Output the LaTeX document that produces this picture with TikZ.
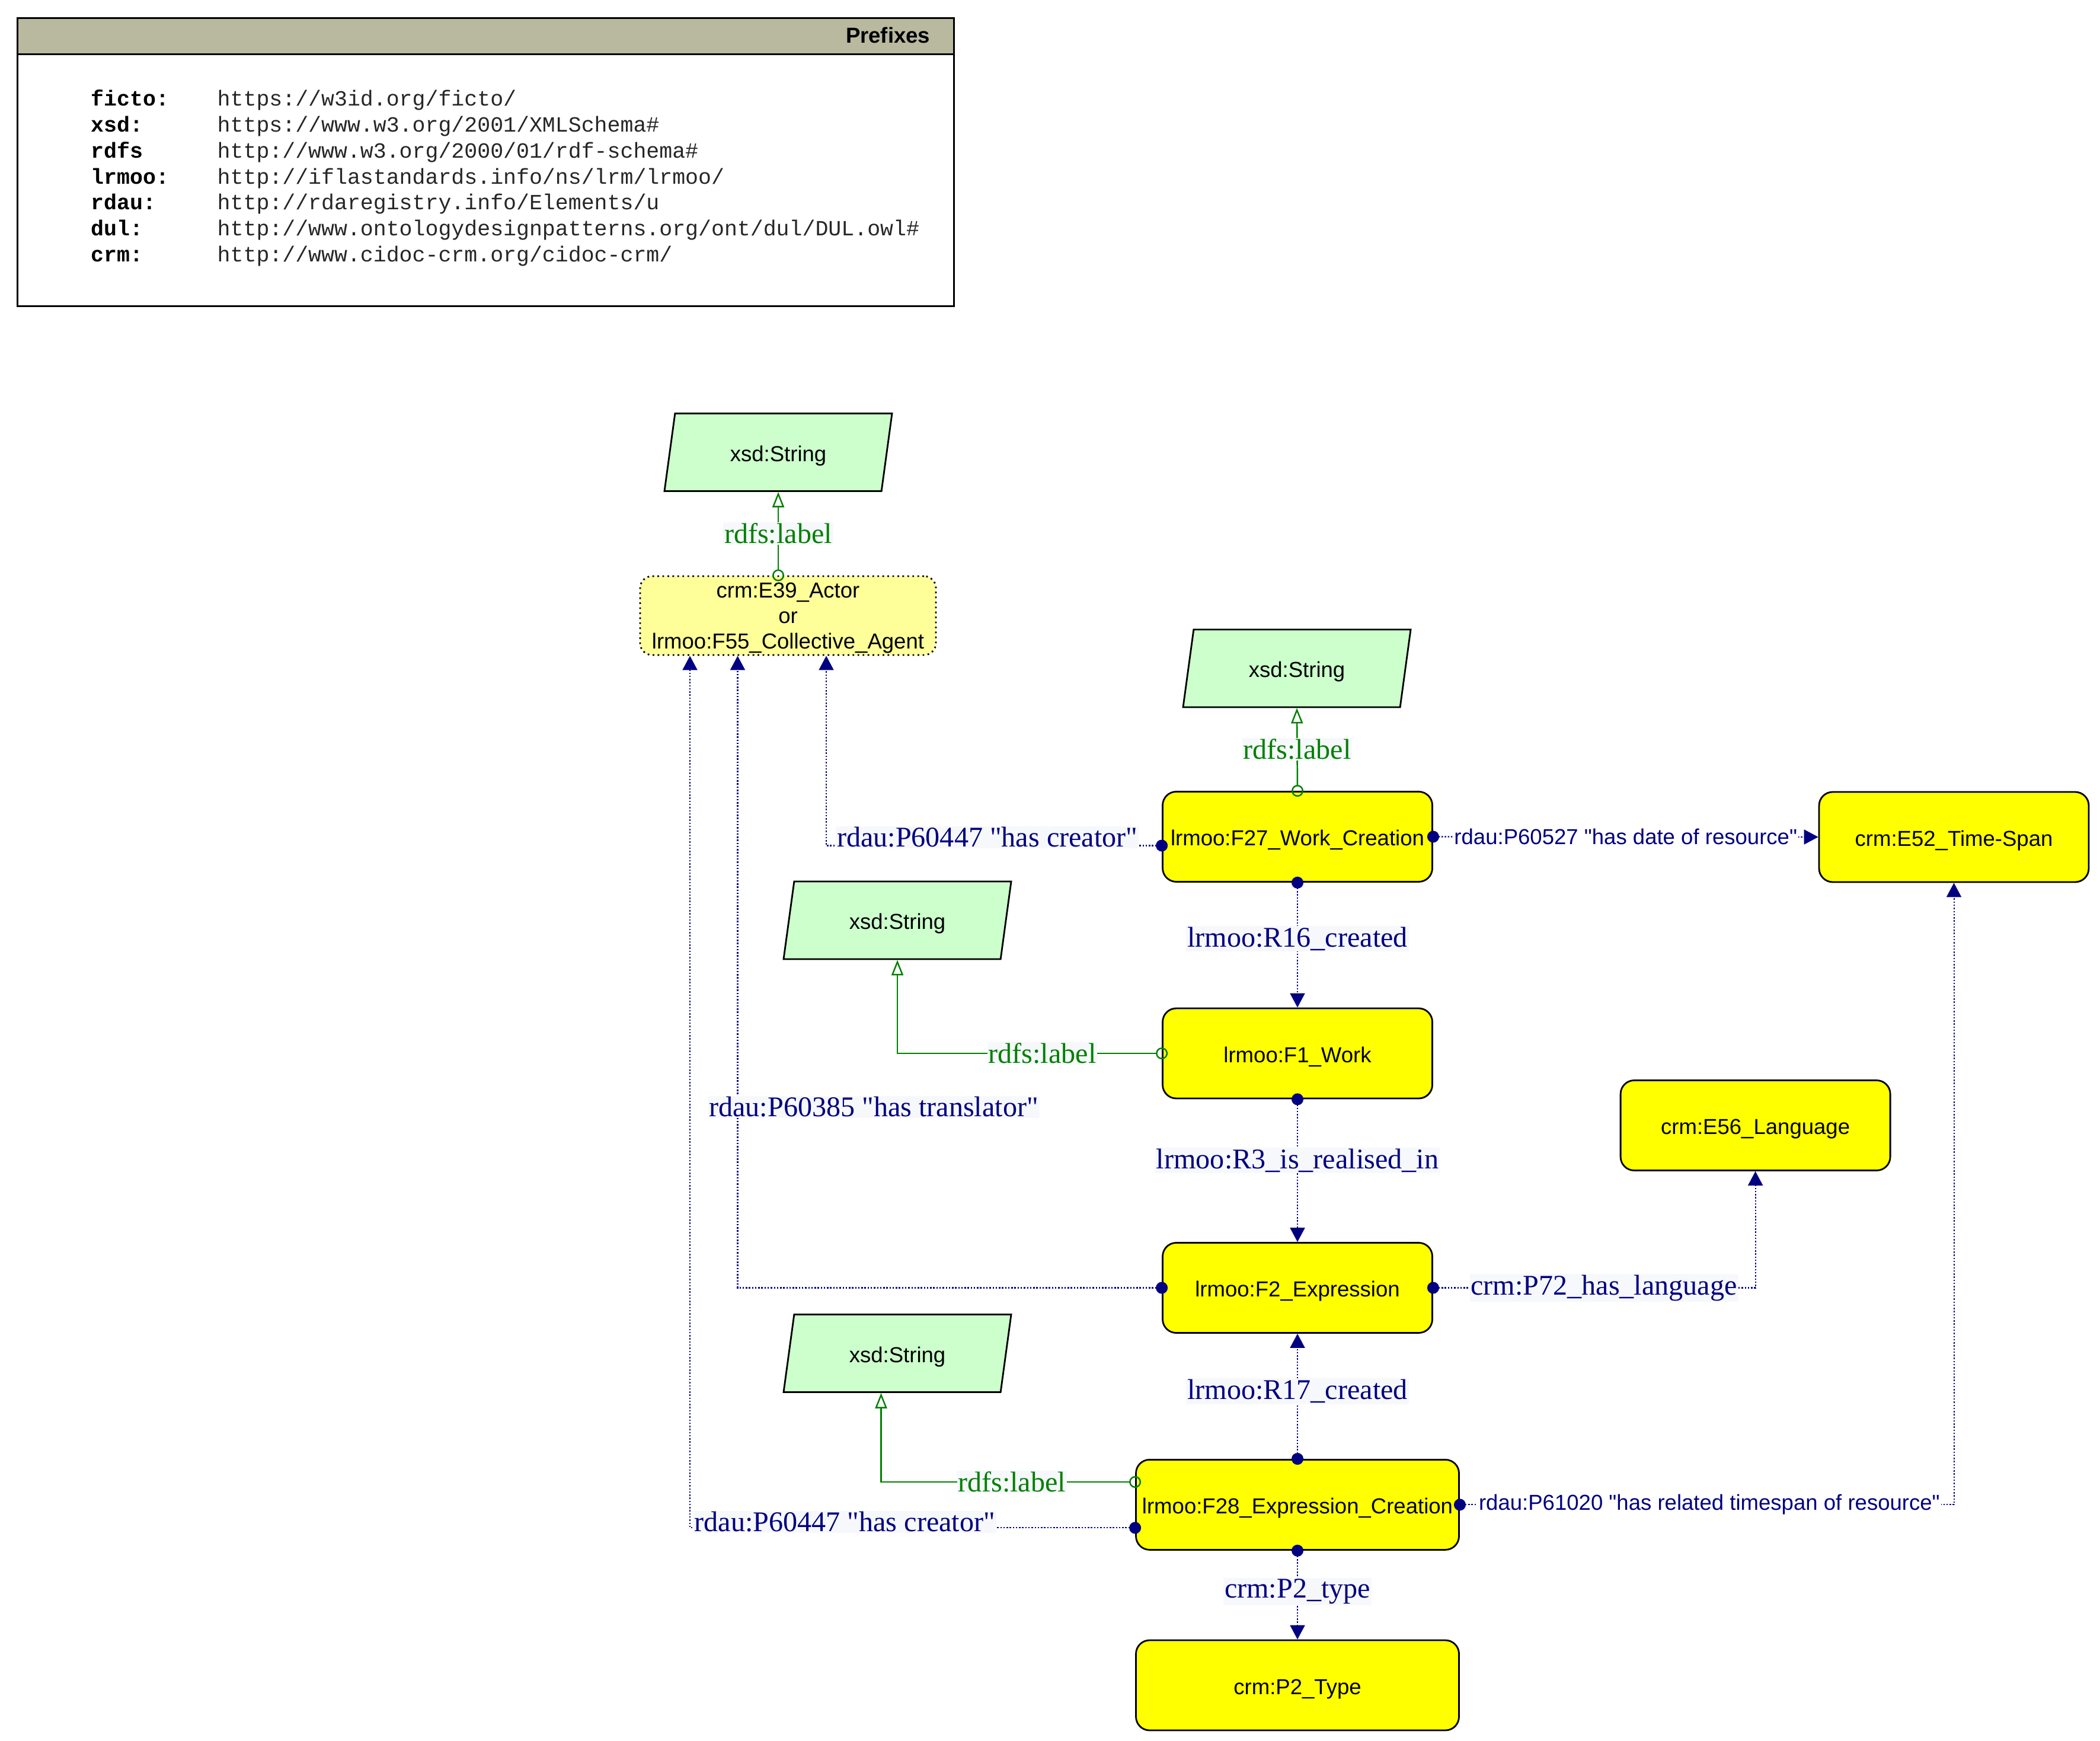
\documentclass[tikz,border=0pt]{standalone}
\usepackage{fontspec}
\setmainfont{Liberation Sans}[Ligatures=TeXOff]
\setmonofont{Liberation Mono}
\newfontfamily\edgefont{Liberation Serif}[Ligatures=TeXOff]
\usetikzlibrary{arrows.meta,shapes.geometric}

\definecolor{linknavy}{RGB}{0,0,128}
\definecolor{labelgreen}{RGB}{0,128,0}
\definecolor{classyellow}{RGB}{255,255,0}
\definecolor{actoryellow}{RGB}{255,255,153}
\definecolor{literalgreen}{RGB}{204,255,204}
\definecolor{headerkhaki}{RGB}{185,185,160}
\definecolor{labelback}{RGB}{246,248,251}

\begin{document}
\begin{tikzpicture}[>={Triangle[length=2.4mm,width=2.5mm]}]
	\tikzstyle{classnode} = [draw=black,line width=0.8pt,fill=classyellow,rounded corners=2.3mm,minimum width=4.55cm,minimum height=1.52cm,inner sep=0pt,text height=8.8pt,text depth=0pt,font=\fontsize{10.4}{12.2}\selectfont];
	\tikzstyle{actornode} = [draw=black,line width=0.8pt,dash pattern=on 0.8pt off 1.6pt,fill=actoryellow,rounded corners=2mm,minimum width=4.99cm,minimum height=1.33cm,align=center,inner sep=0pt,text depth=-0.7pt,font=\fontsize{10.4}{12.2}\selectfont];
	\tikzstyle{literalnode} = [trapezium,trapezium left angle=60,trapezium right angle=120,trapezium stretches body,draw=black,line width=0.8pt,fill=literalgreen,minimum width=3.84cm,minimum height=1.31cm,inner sep=0pt,text height=8.8pt,text depth=0pt,font=\fontsize{10.4}{12.2}\selectfont];
	\tikzstyle{relline} = [linknavy,line width=0.6pt,dash pattern=on 0.7pt off 0.8pt,{Circle[length=2mm]}->,shorten <=-1mm];
	\tikzstyle{labelline} = [labelgreen,line width=0.7pt,{Circle[open,length=2mm]}-{Triangle[open,length=2.6mm,width=2mm]},shorten <=-1mm];
	\tikzstyle{rellabel} = [fill=labelback,text=linknavy,inner sep=0.5pt,font=\edgefont\fontsize{13.7}{14}\selectfont];
	\tikzstyle{relsans} = [fill=white,text=linknavy,inner sep=0.5pt,font=\fontsize{10.4}{12}\selectfont];
	\tikzstyle{labeltext} = [fill=labelback,text=labelgreen,inner sep=0.5pt,font=\edgefont\fontsize{13.7}{14}\selectfont];
	\tikzstyle{prefixrow} = [anchor=base west,inner sep=0pt,text=black!85,font=\ttfamily\fontsize{10.4}{12}\selectfont];
	\useasboundingbox (0,0) rectangle (35.43,-29.37);

	% prefixes
	\node[draw=black,line width=0.8pt,minimum width=15.8cm,minimum height=4.865cm,anchor=north west,inner sep=0pt] (prefixbox) at (0.28,-0.29) {};
	\node[draw=black,fill=headerkhaki,line width=0.8pt,minimum width=15.8cm,minimum height=0.61cm,anchor=north west,inner sep=0pt] (prefixhead) at (0.28,-0.29) {};
	\node[anchor=base east,inner sep=0pt,font=\bfseries\fontsize{10.4}{12}\selectfont] (prefixtitle) at (15.70,-0.723) {Prefixes};
	\node[prefixrow] (pficto) at (1.53,-1.79) {\makebox[2.13cm][l]{\textcolor{black}{\bfseries ficto:}}https://w3id.org/ficto/};
	\node[prefixrow] (pxsd) at (1.53,-2.227) {\makebox[2.13cm][l]{\textcolor{black}{\bfseries xsd:}}https://www.w3.org/2001/XMLSchema\#};
	\node[prefixrow] (prdfs) at (1.53,-2.664) {\makebox[2.13cm][l]{\textcolor{black}{\bfseries rdfs}}http://www.w3.org/2000/01/rdf-schema\#};
	\node[prefixrow] (plrmoo) at (1.53,-3.101) {\makebox[2.13cm][l]{\textcolor{black}{\bfseries lrmoo:}}http://iflastandards.info/ns/lrm/lrmoo/};
	\node[prefixrow] (prdau) at (1.53,-3.538) {\makebox[2.13cm][l]{\textcolor{black}{\bfseries rdau:}}http://rdaregistry.info/Elements/u};
	\node[prefixrow] (pdul) at (1.53,-3.975) {\makebox[2.13cm][l]{\textcolor{black}{\bfseries dul:}}http://www.ontologydesignpatterns.org/ont/dul/DUL.owl\#};
	\node[prefixrow] (pcrm) at (1.53,-4.412) {\makebox[2.13cm][l]{\textcolor{black}{\bfseries crm:}}http://www.cidoc-crm.org/cidoc-crm/};

	% nodes
	\node[literalnode] (xsd1) at (13.13,-7.63) {xsd:String};
	\node[actornode] (actor) at (13.295,-10.385) {crm:E39\_Actor\\or\\lrmoo:F55\_Collective\_Agent};
	\node[literalnode] (xsd2) at (21.88,-11.275) {xsd:String};
	\node[classnode] (F27) at (21.89,-14.115) {lrmoo:F27\_Work\_Creation};
	\node[classnode] (E52) at (32.965,-14.12) {crm:E52\_Time-Span};
	\node[literalnode] (xsd3) at (15.14,-15.525) {xsd:String};
	\node[classnode] (F1) at (21.89,-17.77) {lrmoo:F1\_Work};
	\node[classnode] (E56) at (29.616,-18.985) {crm:E56\_Language};
	\node[classnode] (F2) at (21.89,-21.725) {lrmoo:F2\_Expression};
	\node[literalnode] (xsd4) at (15.14,-22.83) {xsd:String};
	\node[classnode,minimum width=5.45cm] (F28) at (21.89,-25.384) {lrmoo:F28\_Expression\_Creation};
	\node[classnode,minimum width=5.45cm] (P2) at (21.89,-28.43) {crm:P2\_Type};

	% links
	\draw[labelline] (actor.north -| xsd1.south) -- node[labeltext] {rdfs:label} (xsd1.south);
	\draw[labelline] (F27.north) -- node[labeltext] {rdfs:label} (xsd2.south);
	\draw[relline] ([yshift=-1.5mm]F27.west) -| node[rellabel,pos=0.26,yshift=1.4mm] {rdau:P60447 "has creator"} ([xshift=6.45mm]actor.south);
	\draw[relline] (F27.east) -- node[relsans] {rdau:P60527 "has date of resource"} (E52.west);
	\draw[relline] (F27.south) -- node[rellabel,pos=0.45] {lrmoo:R16\_created} (F1.north);
	\draw[labelline] (F1.west) -| node[labeltext,pos=0.226] {rdfs:label} (xsd3.south);
	\draw[relline] (F1.south) -- node[rellabel,pos=0.43] {lrmoo:R3\_is\_realised\_in} (F2.north);
	\draw[relline] (F2.west) -| node[rellabel,pos=0.643,anchor=west,xshift=-5.1mm] {rdau:P60385 "has translator"} ([xshift=-8.5mm]actor.south);
	\draw[relline] (F2.east) -| node[rellabel,pos=0.265] {crm:P72\_has\_language} (E56.south);
	\draw[relline] (F28.north) -- node[rellabel,pos=0.54] {lrmoo:R17\_created} (F2.south);
	\draw[labelline] ([yshift=3.84mm]F28.west) -| node[labeltext,pos=0.2425] {rdfs:label} ([xshift=-2.75mm]xsd4.south);
	\draw[relline] ([yshift=-3.9mm]F28.west) -| node[rellabel,pos=0.326,yshift=1mm] {rdau:P60447 "has creator"} ([xshift=-16.55mm]actor.south);
	\draw[relline] (F28.east) -| node[relsans,pos=0.2525] {rdau:P61020 "has related timespan of resource"} (E52.south);
	\draw[relline] (F28.south) -- node[rellabel,pos=0.46] {crm:P2\_type} (P2.north);
\end{tikzpicture}
\end{document}
